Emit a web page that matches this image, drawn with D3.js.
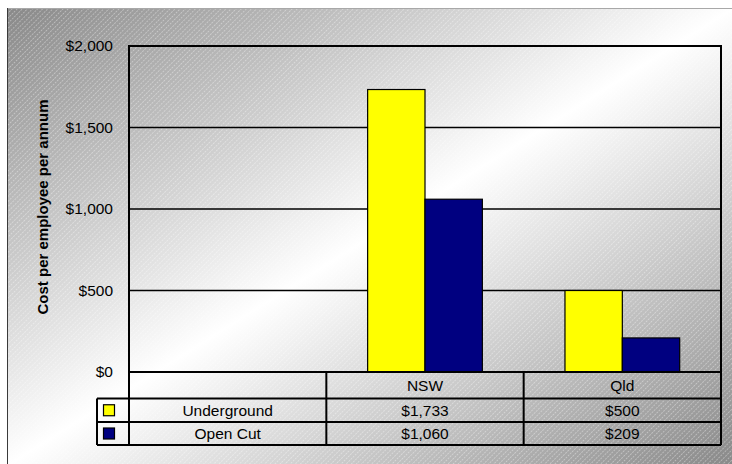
<!DOCTYPE html>
<html>
<head>
<meta charset="utf-8">
<script src="https://cdn.jsdelivr.net/npm/d3@7"></script>
<style>
  html, body { margin: 0; padding: 0; background: #ffffff; }
  svg { display: block; }
  text { font-family: "Liberation Sans", Arial, sans-serif; fill: #000; }
</style>
</head>
<body>
<svg id="chart" width="732" height="464"></svg>
<script>
// Annual cost per employee, by state and mine type
const categories = ["NSW", "Qld"];
const seriesNames = ["Underground", "Open Cut"];
const underground = [1733, 500];
const openCut = [1060, 209];
const seriesColors = ["#ffff00", "#000080"];
const yTicks = [0, 500, 1000, 1500, 2000];
const yTitle = "Cost per employee per annum";

const svg = d3.select("#chart");
const W = 732, H = 464;
const frame = { x: 7, y: 8 };
const plot = { left: 129, top: 46, right: 721, bottom: 372 };
const rowLines = [372, 398.5, 422, 445];
const keyLeft = 97;
const fontSize = 15.5;

const fmt = v => "$" + d3.format(",")(v);

// ---- background: diagonal grey-white-grey gradient with fine hatching
const defs = svg.append("defs");
const grad = defs.append("linearGradient")
  .attr("id", "bg").attr("x1", 0).attr("y1", 0).attr("x2", 1).attr("y2", 1);
grad.append("stop").attr("offset", 0).attr("stop-color", "#888888");
grad.append("stop").attr("offset", 0.5).attr("stop-color", "#ffffff");
grad.append("stop").attr("offset", 1).attr("stop-color", "#888888");

const hatch = defs.append("pattern")
  .attr("id", "hatch").attr("patternUnits", "userSpaceOnUse")
  .attr("width", 3.6).attr("height", 6)
  .attr("patternTransform", "rotate(45)");
hatch.append("line")
  .attr("x1", 0.5).attr("y1", 0).attr("x2", 0.5).attr("y2", 6)
  .attr("stroke", "#ffffff").attr("stroke-opacity", 0.4)
  .attr("stroke-width", 0.9).attr("stroke-dasharray", "2,1");

const bgW = W - frame.x + 2, bgH = H - frame.y + 2;
svg.append("rect").attr("x", frame.x).attr("y", frame.y)
  .attr("width", bgW).attr("height", bgH).attr("fill", "url(#bg)");
svg.append("rect").attr("x", frame.x).attr("y", frame.y)
  .attr("width", bgW).attr("height", bgH).attr("fill", "url(#hatch)");
svg.append("line").attr("x1", frame.x).attr("x2", W)
  .attr("y1", frame.y + 0.5).attr("y2", frame.y + 0.5)
  .attr("stroke", "#a8a8a8").attr("stroke-width", 1);
svg.append("line").attr("x1", frame.x + 0.5).attr("x2", frame.x + 0.5)
  .attr("y1", frame.y).attr("y2", H)
  .attr("stroke", "#3a3a3a").attr("stroke-width", 1);

// ---- scales: the first band holds the table's series-name column
const x0 = d3.scaleBand()
  .domain(["", ...categories])
  .range([plot.left, plot.right])
  .paddingInner(0).paddingOuter(0);
const x1 = d3.scaleBand()
  .domain(seriesNames)
  .range([0, x0.bandwidth()])
  .paddingInner(0).paddingOuter(0.72);
const y = d3.scaleLinear().domain([0, 2000]).range([plot.bottom, plot.top]);

// ---- gridlines
svg.append("g").selectAll("line")
  .data(yTicks.filter(v => v > 0 && v < 2000))
  .join("line")
  .attr("x1", plot.left).attr("x2", plot.right)
  .attr("y1", d => y(d)).attr("y2", d => y(d))
  .attr("stroke", "#000").attr("stroke-width", 1.5);

// ---- bars
const seriesValues = [underground, openCut];
const barG = svg.append("g");
seriesNames.forEach((name, si) => {
  barG.append("g").selectAll("rect")
    .data(categories.map((c, i) => ({ c, v: seriesValues[si][i] })))
    .join("rect")
    .attr("x", d => x0(d.c) + x1(name))
    .attr("y", d => y(d.v))
    .attr("width", x1.bandwidth())
    .attr("height", d => y(0) - y(d.v))
    .attr("fill", seriesColors[si])
    .attr("stroke", "#000").attr("stroke-width", 1.2);
});

// ---- plot border
svg.append("rect")
  .attr("x", plot.left).attr("y", plot.top)
  .attr("width", plot.right - plot.left).attr("height", plot.bottom - plot.top)
  .attr("fill", "none").attr("stroke", "#000").attr("stroke-width", 2);

// ---- y axis labels
const yAxis = d3.axisLeft(y).tickValues(yTicks).tickFormat(fmt).tickSize(0).tickPadding(16);
const ya = svg.append("g").attr("transform", `translate(${plot.left},0)`).call(yAxis);
ya.select(".domain").remove();
ya.selectAll("text")
  .attr("font-family", "Liberation Sans, Arial, sans-serif")
  .attr("font-size", fontSize).attr("fill", "#000");

svg.append("text")
  .attr("transform", `translate(48,${(plot.top + plot.bottom) / 2 - 2}) rotate(-90)`)
  .attr("text-anchor", "middle")
  .attr("font-size", 15).attr("font-weight", "bold")
  .text(yTitle);

// ---- data table
const tbl = svg.append("g").attr("stroke", "#000").attr("stroke-width", 2);
// horizontal rules
tbl.append("line").attr("x1", plot.left).attr("x2", plot.right)
  .attr("y1", rowLines[0]).attr("y2", rowLines[0]);
rowLines.slice(1).forEach(yy => {
  tbl.append("line").attr("x1", keyLeft).attr("x2", plot.right)
    .attr("y1", yy).attr("y2", yy);
});
// vertical rules
tbl.append("line").attr("x1", keyLeft).attr("x2", keyLeft)
  .attr("y1", rowLines[1]).attr("y2", rowLines[3]);
x0.domain().forEach(c => {
  const xx = x0(c);
  tbl.append("line").attr("x1", xx).attr("x2", xx)
    .attr("y1", rowLines[0]).attr("y2", rowLines[3]);
});
tbl.append("line").attr("x1", plot.right).attr("x2", plot.right)
  .attr("y1", rowLines[0]).attr("y2", rowLines[3]);

const cellText = (cx, cy, t) => svg.append("text")
  .attr("x", cx).attr("y", cy).attr("text-anchor", "middle")
  .attr("dominant-baseline", "central").attr("font-size", fontSize).text(t);

const bw = x0.bandwidth();
categories.forEach(c => cellText(x0(c) + bw / 2, (rowLines[0] + rowLines[1]) / 2, c));
seriesNames.forEach((name, si) => {
  const cy = (rowLines[si + 1] + rowLines[si + 2]) / 2;
  cellText(x0("") + bw / 2, cy, name);
  categories.forEach((c, i) => cellText(x0(c) + bw / 2, cy, fmt(seriesValues[si][i])));
  svg.append("rect")
    .attr("x", 103.5).attr("y", cy - 5.5)
    .attr("width", 11).attr("height", 11)
    .attr("fill", seriesColors[si]).attr("stroke", "#000").attr("stroke-width", 1.2);
});
</script>
</body>
</html>
